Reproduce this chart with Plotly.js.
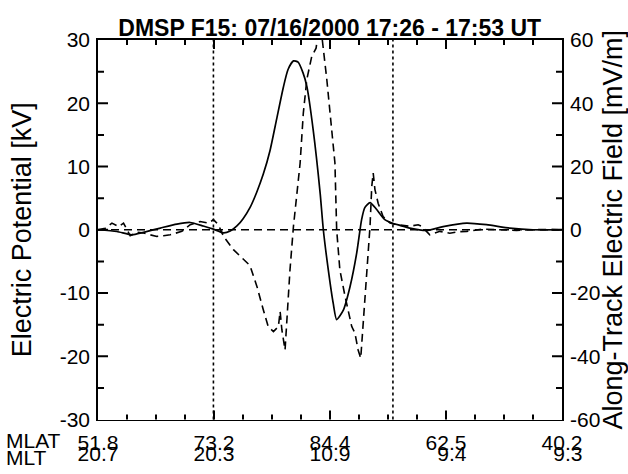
<!DOCTYPE html>
<html>
<head>
<meta charset="utf-8">
<script src="https://cdn.plot.ly/plotly-3.0.1.min.js"></script>
<style>
  html, body { margin: 0; padding: 0; background: #fff; }
  #chart { width: 628px; height: 474px; }
</style>
</head>
<body>
<div id="chart"></div>
<script>
// Track position (arbitrary along-track units 0..16)
const potX = [0, 0.65, 1.17, 1.57, 2.15, 2.72, 3.18, 3.63, 3.98, 4.33, 4.56, 4.79, 5.01, 5.24, 5.47, 5.70, 5.93, 6.16, 6.39, 6.55, 6.74, 6.90, 7.07, 7.20, 7.42, 7.66, 7.77, 7.94, 8.11, 8.23, 8.46, 8.69, 8.92, 9.09, 9.20, 9.38, 9.61, 9.89, 10.18, 10.41, 10.75, 11.33, 11.90, 12.71, 13.40, 14.20, 15.00, 16];
// Electric potential [kV]
const potKV = [0, -0.27, -0.8, -0.4, 0.27, 0.9, 1.15, 0.6, 0.1, -0.5, -0.2, 0.6, 1.8, 3.5, 5.9, 8.8, 12.5, 17.5, 22.5, 25.3, 26.7, 26.5, 24.8, 22.7, 15.8, 5.8, 0, -6.3, -11.6, -14.2, -12.7, -9.0, -3.7, 1.6, 3.5, 4.3, 3.2, 1.6, 1.0, 0.7, 0.27, -0.1, 0.5, 1.06, 0.8, 0.27, 0, 0];

const efX = [0, 0.25, 0.48, 0.71, 0.88, 1.11, 1.34, 1.57, 1.80, 2.03, 2.26, 2.49, 2.89, 3.18, 3.52, 3.81, 3.98, 4.15, 4.33, 4.67, 5.24, 5.48, 5.70, 5.87, 6.05, 6.22, 6.28, 6.34, 6.45, 6.51, 6.62, 6.74, 6.97, 7.08, 7.20, 7.37, 7.52, 7.62, 7.71, 7.89, 8.06, 8.17, 8.23, 8.34, 8.52, 8.75, 8.86, 8.97, 9.06, 9.15, 9.26, 9.38, 9.44, 9.49, 9.55, 9.66, 9.83, 10.07, 10.30, 10.75, 11.04, 11.16, 11.44, 11.79, 12.13, 12.42, 12.71, 13.28, 13.85, 14.43, 15.23, 16];
// Along-track electric field [mV/m]
const efMV = [0, 0.5, 2.1, 1.0, 2.1, -1.9, -0.8, -1.0, -1.6, -2.1, -1.9, -1.6, -0.5, 1.6, 2.6, 2.1, 3.2, 1.6, -2.1, -6.3, -11.3, -17.9, -25.3, -30.6, -32.2, -30.6, -25.8, -31.6, -38, -28.5, -12.7, 1.1, 21.1, 36.9, 47.5, 54.8, 57.4, 64, 62, 47.5, 31.6, 21.1, 0, -12.7, -21.1, -30.6, -32.7, -38, -40.6, -28.5, -12.7, 1.1, 13.7, 17.9, 12.7, 8.4, 4.2, 2.1, 1.6, 1.1, 1.6, 1.1, -1.6, -0.5, -1.1, -0.6, -0.5, 0.2, 0, -0.2, 0.1, 0];

const tickPos = [0, 4, 8, 12, 16];
const minorXPos = [1, 2, 3, 5, 6, 7, 9, 10, 11, 13, 14, 15];
const mlatLabels = ["51.8", "73.2", "84.4", "62.5", "40.2"];
const mltLabels = ["20.7", "20.3", "10.9", "\u00a0\u00a09.4", "\u00a0\u00a09.3"];
const kvTicks = [-30, -20, -10, 0, 10, 20, 30];
const kvLabels = ["-30", "-20", "-10", "0", "10", "20", "30"];
const kvMinor = [-25, -15, -5, 5, 15, 25];
const mvTicks = [-60, -40, -20, 0, 20, 40, 60];
const mvLabels = ["-60", "-40", "-20", "0", "20", "40", "60"];
const mvMinor = [-50, -30, -10, 10, 30, 50];
const boundaryX = [3.98, 10.17];

const FONT = "Liberation Sans, Arial, Helvetica, sans-serif";
const fs = 21;
const tfs = 27;
const blk = '#000';
const yDom = [0.044, 1];
const W = 628, H = 474, ML = 98, MR = 66, MT = 40, MB = 37;
const plotW = W - ML - MR;
const plotH = (H - MT - MB) * (yDom[1] - yDom[0]);

const traces = [
  { x: tickPos, y: [0, 0, 0, 0, 0], type: 'scatter', mode: 'none', xaxis: 'x2', yaxis: 'y', hoverinfo: 'skip', showlegend: false },
  { x: potX, y: potKV, type: 'scatter', mode: 'lines', line: { color: blk, width: 1.7, shape: 'spline', smoothing: 0.6 }, xaxis: 'x', yaxis: 'y', hoverinfo: 'skip', showlegend: false },
  { x: efX, y: efMV, type: 'scatter', mode: 'lines', line: { color: blk, width: 1.6, dash: '8px,5px' }, xaxis: 'x', yaxis: 'y2', hoverinfo: 'skip', showlegend: false }
];

const tickLine = { color: blk, width: 2 };
const shapes = [
  { type: 'line', xref: 'x domain', x0: 0, x1: 1, yref: 'y', y0: 0, y1: 0, line: { color: blk, width: 1.6, dash: '8px,5px' } }
];
boundaryX.forEach(b => shapes.push({ type: 'line', xref: 'x', x0: b, x1: b, yref: 'y domain', y0: 0, y1: 1, line: { color: blk, width: 1.6, dash: 'dot' } }));

// axis tick marks (inward), placed from the tick value lists
function yTicks(vals, yref, side, len) {
  const f = len / plotW;
  vals.forEach(v => shapes.push({ type: 'line', layer: 'above', xref: 'x domain', x0: side === 'left' ? 0 : 1, x1: side === 'left' ? f : 1 - f, yref: yref, y0: v, y1: v, line: tickLine }));
}
function xTicks(vals, len) {
  const f = len / plotH;
  vals.forEach(v => {
    shapes.push({ type: 'line', layer: 'above', xref: 'x', x0: v, x1: v, yref: 'y domain', y0: 0, y1: f, line: tickLine });
    shapes.push({ type: 'line', layer: 'above', xref: 'x', x0: v, x1: v, yref: 'y domain', y0: 1, y1: 1 - f, line: tickLine });
  });
}
yTicks(kvTicks.slice(1, -1), 'y', 'left', 10);
yTicks(kvMinor, 'y', 'left', 6);
yTicks(mvTicks.slice(1, -1), 'y2', 'right', 10);
yTicks(mvMinor, 'y2', 'right', 6);
xTicks(tickPos.slice(1, -1), 9);
xTicks(minorXPos, 5);

const noGrid = { showgrid: false, zeroline: false };

const layout = {
  width: W, height: H,
  margin: { l: ML, r: MR, t: MT, b: MB, pad: 0 },
  paper_bgcolor: '#fff', plot_bgcolor: '#fff',
  font: { family: FONT, size: fs, color: blk },
  title: { text: '<b>DMSP F15: 07/16/2000 17:26 - 17:53 UT</b>', font: { family: FONT, size: 23, color: blk }, x: 0.525, xanchor: 'center', y: 0.941, yanchor: 'middle', yref: 'container' },
  xaxis: Object.assign({
    range: [0, 16], tickmode: 'array', tickvals: tickPos, ticktext: mlatLabels, ticks: '',
    showline: true, linecolor: blk, linewidth: 1.8, mirror: true, anchor: 'y',
    tickfont: { size: fs }, ticklabelstandoff: 3
  }, noGrid),
  xaxis2: Object.assign({
    range: [0, 16], overlaying: 'x', side: 'bottom', anchor: 'free', position: 0, tickmode: 'array', tickvals: tickPos, ticktext: mltLabels, ticks: '', showline: false,
    tickfont: { size: fs }, ticklabelstandoff: 2
  }, noGrid),
  yaxis: Object.assign({
    domain: yDom, range: [-30, 30], tickmode: 'array', tickvals: kvTicks, ticktext: kvLabels, ticks: '',
    showline: true, linecolor: blk, linewidth: 1.8,
    tickfont: { size: fs }, ticklabelstandoff: 2,
    title: { text: 'Electric Potential [kV]', font: { size: tfs }, standoff: 20 }
  }, noGrid),
  yaxis2: Object.assign({
    domain: yDom, range: [-60, 60], overlaying: 'y', side: 'right', tickmode: 'array', tickvals: mvTicks, ticktext: mvLabels, ticks: '',
    showline: true, linecolor: blk, linewidth: 1.8,
    tickfont: { size: fs }, ticklabelstandoff: 2,
    title: { text: 'Along-Track Electric Field [mV/m]', font: { size: tfs }, standoff: 5 }
  }, noGrid),
  annotations: [
    { text: 'MLAT', xref: 'paper', yref: 'paper', x: -0.203, y: -0.008, xanchor: 'left', yanchor: 'middle', align: 'left', showarrow: false, font: { size: fs } },
    { text: 'MLT', xref: 'paper', yref: 'paper', x: -0.203, y: -0.051, xanchor: 'left', yanchor: 'middle', align: 'left', showarrow: false, font: { size: fs } }
  ],
  shapes: shapes,
  showlegend: false
};

Plotly.newPlot('chart', traces, layout, { staticPlot: true, displayModeBar: false });
</script>
</body>
</html>
